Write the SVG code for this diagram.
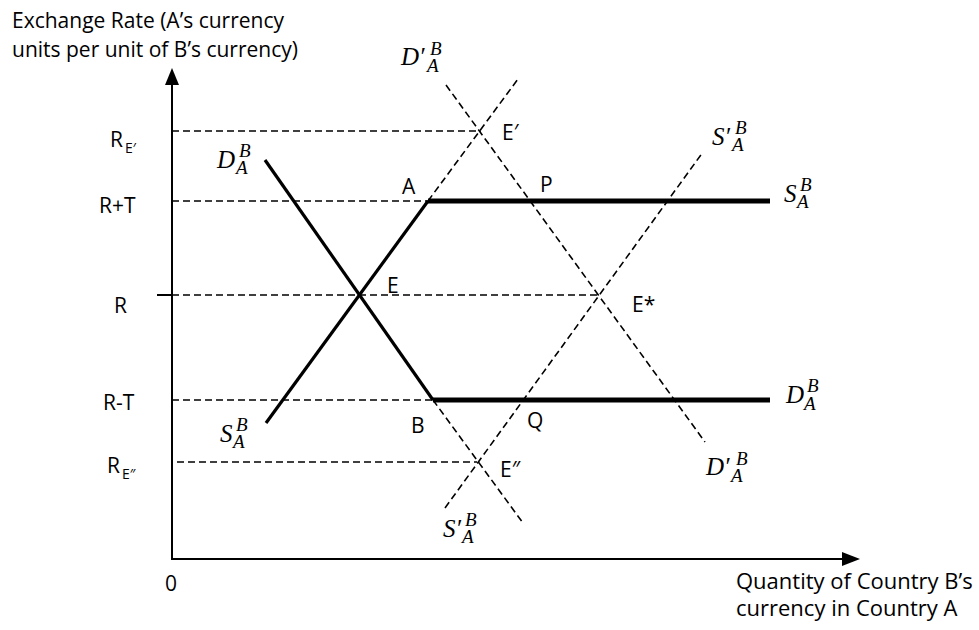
<svg xmlns="http://www.w3.org/2000/svg" width="979" height="630" viewBox="0 0 979 630">
<style>
.t{font-family:"Open Sans","Liberation Sans",sans-serif;font-size:21px;fill:#000}
.ts{font-family:"Open Sans","Liberation Sans",sans-serif;font-size:14px}
.m{font-family:"Liberation Serif","DejaVu Serif",serif;font-style:italic;font-size:25px;fill:#000}
.s{font-size:19px}
.ax{stroke:#000;stroke-width:2;fill:none}
.dash{stroke:#000;stroke-width:1.6;stroke-dasharray:7 4;fill:none}
.sol{stroke:#000;stroke-width:3.2;fill:none}
.thick{stroke:#000;stroke-width:5;fill:none}
</style>
<rect width="979" height="630" fill="#fff"/>

<g id="axes">
<line class="ax" x1="172" y1="560" x2="172" y2="84"/>
<path d="M165,85 L172,68 L179,85 z" fill="#000"/>
<line class="ax" x1="172" y1="559" x2="843" y2="559"/>
<path d="M842,552 L860,559 L842,566 z" fill="#000"/>
<line class="ax" x1="157" y1="295" x2="172" y2="295"/>
</g>

<g id="connectors">
<g id="guides">
<line class="dash" x1="172" y1="131" x2="481" y2="131"/>
<line class="dash" x1="172" y1="201" x2="428" y2="201"/>
<line class="dash" x1="172" y1="295" x2="599" y2="295"/>
<line class="dash" x1="172" y1="400" x2="433" y2="400"/>
<line class="dash" x1="177" y1="462" x2="477" y2="462"/>
</g>
<g id="supply">
<line class="sol" x1="266" y1="423" x2="428" y2="201"/>
<line class="thick" x1="428" y1="201" x2="770" y2="201"/>
<line class="dash" x1="428" y1="201" x2="518" y2="79"/>
</g>
<g id="demand">
<line class="sol" x1="265" y1="160" x2="433" y2="400"/>
<line class="thick" x1="433" y1="400" x2="770" y2="400"/>
<line class="dash" x1="433" y1="400" x2="523" y2="523"/>
</g>
<g id="supply-shifted">
<line class="dash" x1="445" y1="508" x2="703" y2="152"/>
</g>
<g id="demand-shifted">
<line class="dash" x1="446" y1="85" x2="705" y2="442"/>
</g>
</g>

<g id="axis-labels">
<text class="t" x="12" y="28">Exchange Rate (A’s currency</text>
<text class="t" x="12" y="57">units per unit of B’s currency)</text>
<text class="t" x="165" y="591">0</text>
<text class="t" x="736" y="589" style="font-size:22px">Quantity of Country B’s</text>
<text class="t" x="736" y="616" style="font-size:22px">currency in Country A</text>
</g>

<g id="rate-labels">
<text id="lbl-RE1" class="t" x="110" y="147">R<tspan class="ts" x="125" y="153">E′</tspan></text>
<text id="lbl-RT" class="t" x="99" y="213">R+T</text>
<text id="lbl-R" class="t" x="114" y="313">R</text>
<text id="lbl-RmT" class="t" x="103" y="410">R-T</text>
<text id="lbl-RE2" class="t" x="107" y="473">R<tspan class="ts" x="122" y="479">E″</tspan></text>
</g>

<g id="point-labels">
<text id="pt-A" class="t" x="402" y="194">A</text>
<text id="pt-P" class="t" x="540" y="192">P</text>
<text id="pt-E1" class="t" x="502" y="140">E′</text>
<text id="pt-E" class="t" x="387" y="293">E</text>
<text id="pt-Estar" class="t" x="632" y="312">E*</text>
<text id="pt-B" class="t" x="411" y="433">B</text>
<text id="pt-Q" class="t" x="527" y="428">Q</text>
<text id="pt-E2" class="t" x="500" y="477">E″</text>
</g>

<g id="curve-labels">
<text id="lbl-D-left" class="m" x="217" y="168">D<tspan class="s" x="239" y="157">B</tspan><tspan class="s" x="236" y="174">A</tspan></text>
<text id="lbl-S-left" class="m" x="220" y="442">S<tspan class="s" x="236" y="431">B</tspan><tspan class="s" x="233" y="448">A</tspan></text>
<text id="lbl-Dp-top" class="m" x="401" y="65">D′<tspan class="s" x="430" y="55">B</tspan><tspan class="s" x="427" y="72">A</tspan></text>
<text id="lbl-Sp-right" class="m" x="712" y="145">S′<tspan class="s" x="735" y="134">B</tspan><tspan class="s" x="732" y="151">A</tspan></text>
<text id="lbl-S-right" class="m" x="784" y="202">S<tspan class="s" x="800" y="191">B</tspan><tspan class="s" x="797" y="208">A</tspan></text>
<text id="lbl-D-right" class="m" x="786" y="403">D<tspan class="s" x="807" y="392">B</tspan><tspan class="s" x="804" y="410">A</tspan></text>
<text id="lbl-Dp-bottom" class="m" x="706" y="475">D′<tspan class="s" x="736" y="465">B</tspan><tspan class="s" x="731" y="482">A</tspan></text>
<text id="lbl-Sp-bottom" class="m" x="443" y="537">S′<tspan class="s" x="465" y="526">B</tspan><tspan class="s" x="462" y="543">A</tspan></text>
</g>
</svg>
